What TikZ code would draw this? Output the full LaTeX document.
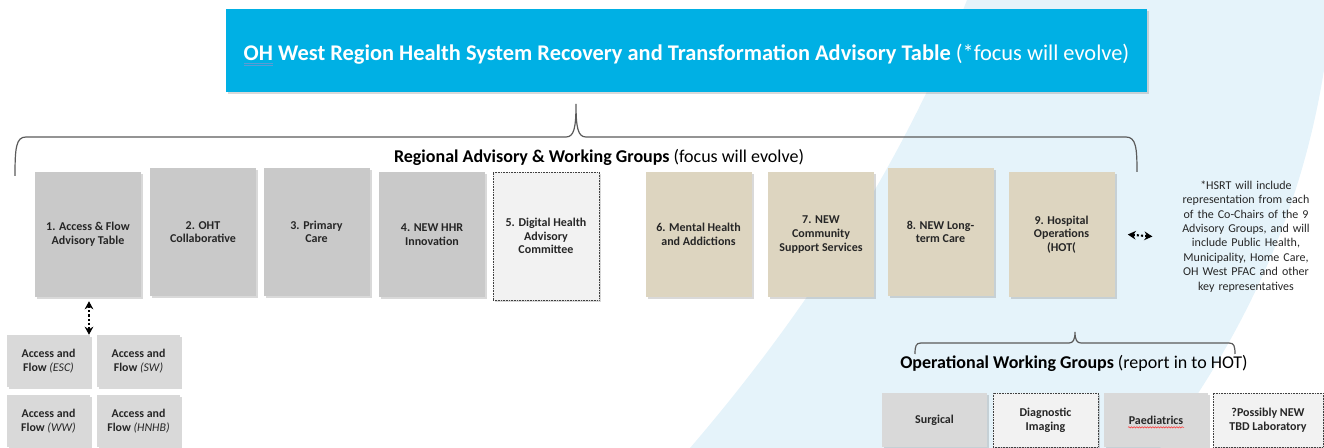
\documentclass[tikz,border=0pt]{standalone}
\usepackage{fontspec}
\setmainfont{Carlito}
\usetikzlibrary{arrows.meta,shadows,calc,decorations.pathmorphing}

\definecolor{titleblue}{HTML}{00B0E4}
\definecolor{bandblue}{HTML}{E5F3FA}
\definecolor{boxgrey}{HTML}{C9C9C9}
\definecolor{softgrey}{HTML}{D9D9D9}
\definecolor{paleface}{HTML}{F2F2F2}
\definecolor{sandtan}{HTML}{DDD5C0}
\definecolor{inkgrey}{HTML}{262626}
\definecolor{bracegrey}{HTML}{5A5A5A}
\definecolor{markblue}{HTML}{5B9BD5}

% double blue mark under a word
\newcommand{\ohmark}[1]{\setbox0\hbox{#1}%
  \rlap{\color{markblue}\raisebox{-2.6pt}{\rule{\wd0}{0.7pt}}}%
  \rlap{\color{markblue}\raisebox{-4.2pt}{\rule{\wd0}{0.7pt}}}\box0\relax}

\tikzset{
  boxshadow/.style={drop shadow={shadow xshift=1.6pt, shadow yshift=-1.6pt, opacity=0.3}},
  groupbox/.style={fill=boxgrey, minimum width=79.5pt, minimum height=93.75pt,
    inner sep=2pt, align=center, text=inkgrey,
    font=\fontsize{9}{10.2}\selectfont\bfseries, boxshadow},
  tanbox/.style={groupbox, fill=sandtan},
  dotbox/.style={groupbox, fill=paleface, draw=black!75, line width=0.6pt,
    dash pattern=on 0.6pt off 0.6pt, drop shadow={opacity=0}},
  subbox/.style={groupbox, fill=softgrey, minimum width=62.25pt, minimum height=39pt,
    font=\fontsize{8.9}{10.5}\selectfont\bfseries},
  workbox/.style={subbox, minimum width=78.75pt, minimum height=40.5pt,
    font=\fontsize{9}{10.5}\selectfont\bfseries},
  workdot/.style={dotbox, minimum width=78.75pt, minimum height=40.5pt,
    font=\fontsize{9}{10.5}\selectfont\bfseries},
  heading/.style={font=\fontsize{13.5}{16}\selectfont},
  bracket/.style={draw=bracegrey, line width=0.9pt},
  linkarrow/.style={{Stealth[length=6pt,width=6.5pt]}-{Stealth[length=6pt,width=6.5pt]},
    line width=1.6pt, dash pattern=on 1.6pt off 1.5pt}
}

\begin{document}
\begin{tikzpicture}[x=0.75pt, y=-0.75pt]
  \useasboundingbox (0,0) rectangle (1324,448);

  % Background band
  \fill[bandblue] (967,0) .. controls (900,170) and (800,320) .. (690,448)
    -- (1160,448) .. controls (1240,340) and (1300,220) .. (1324,70) -- (1324,0) -- cycle;

  % Title
  \node[fill=titleblue, minimum width=690.75pt, minimum height=62.25pt, boxshadow] (table) at (686.5,50.5) {};
  \node[text=white, font=\fontsize{16.8}{20}\selectfont] (tabletext) at (686.5,55)
    {\textbf{\ohmark{OH} West Region Health System Recovery and Transformation Advisory Table} (*focus will evolve)};

  % Upper brace
  \draw[bracket] (15,176) .. controls (15,148) and (16,137) .. (26,137) -- (566,137)
    .. controls (574,137) and (576,128) .. (576,104)
    .. controls (576,128) and (578,137) .. (586,137) -- (1126,137)
    .. controls (1136,137) and (1137,148) .. (1137,172);
  \node[heading] (regional) at (599,157)
    {\textbf{Regional Advisory \& Working Groups} (focus will evolve)};

  % Advisory groups
  \node[groupbox] (acc)  at (88,234.5)   {1. Access \& Flow\\Advisory Table};
  \node[groupbox, minimum height=96pt] (oht)  at (203,232)   {2. OHT\\Collaborative};
  \node[groupbox, minimum height=96pt] (prim) at (316.5,232) {3. Primary\\Care};
  \node[groupbox] (hhr)  at (432,234.5)  {4. NEW HHR\\Innovation};
  \node[dotbox, minimum height=96pt] (dig) at (546,236) {5. Digital Health\\Advisory\\Committee};
  \node[tanbox]  (mha)  at (698.5,234.5) {6. Mental Health\\and Addictions};
  \node[tanbox]  (css)  at (821,234.5)   {7. NEW\\Community\\Support Services};
  \node[tanbox, minimum height=96pt] (ltc) at (940.5,232) {8. NEW Long-\\term Care};
  \node[tanbox]  (hosp) at (1061.5,234.5) {9. Hospital\\Operations\\(HOT(};

  % Note
  \node[text width=100pt, inner sep=0pt, align=center, text=inkgrey,
    font=\fontsize{9}{10.8}\selectfont] (note) at (1246,236.5)
    {*HSRT will include\\representation from each\\of the Co-Chairs of the 9\\Advisory Groups, and will\\include Public Health,\\Municipality, Home Care,\\OH West PFAC and other\\key representatives};
  \draw[linkarrow] ([xshift=9.75pt]hosp.east) -- ([xshift=-20pt]note.west);

  % Access and Flow tables
  \node[subbox] (esc)  at (48.5,361)  {Access and\\Flow \textit{\mdseries(ESC)}};
  \node[subbox] (sw)   at (138.5,361) {Access and\\Flow \textit{\mdseries(SW)}};
  \node[subbox] (ww)   at (48.5,421)  {Access and\\Flow \textit{\mdseries(WW)}};
  \node[subbox] (hnhb) at (138.5,421) {Access and\\Flow \textit{\mdseries(HNHB)}};
  \draw[linkarrow] ($(acc.south)+(1,4)$) -- ($(acc.south |- esc.north)+(1,0)$);

  % Lower brace
  \draw[bracket] (915,354) .. controls (915,346) and (916,343) .. (921,343) -- (1069,343)
    .. controls (1073,343) and (1075,340) .. (1075,332)
    .. controls (1075,340) and (1077,343) .. (1081,343) -- (1229,343)
    .. controls (1234,343) and (1235,346) .. (1235,354);
  \node[heading] (operational) at (1074,363)
    {\textbf{Operational Working Groups} (report in to HOT)};

  % Operational working groups
  \node[workbox] (surg) at (934.5,420)  {Surgical};
  \node[workdot] (diag) at (1045.5,420) {Diagnostic\\Imaging};
  \node[workbox, minimum width=78pt] (paed) at (1156,420) {Paediatrics};
  \node[workdot, minimum width=82.5pt] (lab) at (1268,420) {?Possibly NEW\\TBD Laboratory};
  \draw[red!80, line width=0.4pt, decorate, decoration={snake, amplitude=0.5pt, segment length=2pt}]
    ([xshift=-21pt, yshift=-5.5pt]paed.center) -- ([xshift=21pt, yshift=-5.5pt]paed.center);

\end{tikzpicture}
\end{document}
